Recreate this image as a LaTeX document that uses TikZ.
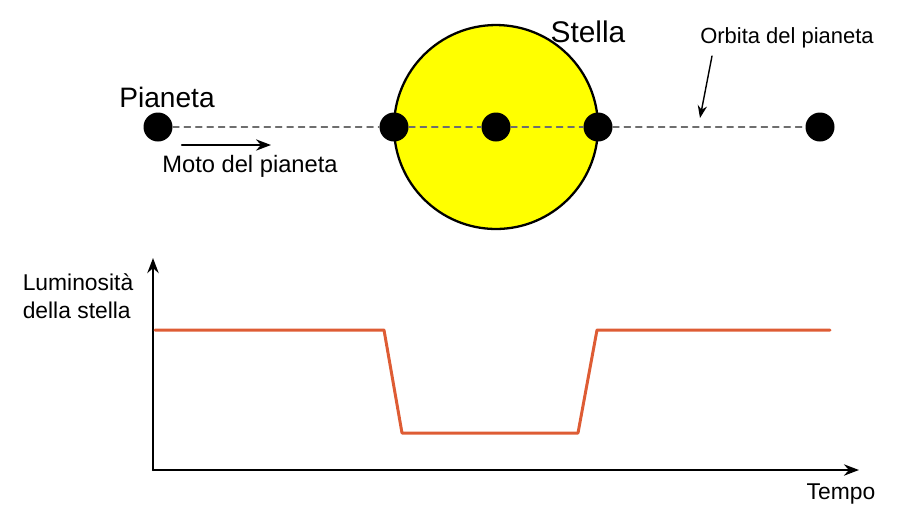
\documentclass[tikz,border=0pt]{standalone}
\usepackage{fontspec}
\setmainfont{Liberation Sans}
\usetikzlibrary{arrows.meta,positioning}

\definecolor{gialloStella}{RGB}{255,255,0}
\definecolor{curvaLuce}{RGB}{222,92,52}
\definecolor{orbitaGrigio}{RGB}{110,110,110}

\begin{document}
\begin{tikzpicture}[x=0.02cm, y=-0.02cm, line cap=round, line join=round, >={Stealth[length=3mm]}]
  \useasboundingbox (0,0) rectangle (906,508);

  % Stella e pianeti sull'orbita
  \node[circle, draw, line width=1.3pt, fill=gialloStella, minimum size=4.08cm, inner sep=0pt] (stella) at (496,127) {};
  \tikzset{pianeta/.style={circle, fill=black, minimum size=0.58cm, inner sep=0pt}}
  \node[pianeta] (p1) at (158,127) {};
  \node[pianeta] (p2) at (394,127) {};
  \node[pianeta] (p3) at (496,127) {};
  \node[pianeta] (p4) at (598,127) {};
  \node[pianeta] (p5) at (820,127) {};
  \draw[orbitaGrigio, dash pattern=on 3.5pt off 3pt, line width=0.8pt] (p1) -- (p2) -- (p3) -- (p4) -- (p5);

  % Etichette in alto
  \node[font=\fontsize{16}{18}\selectfont] (pianetaLbl) at (167,97) {Pianeta};
  \node[font=\fontsize{17}{19}\selectfont] (stellaLbl) at (588,32) {Stella};
  \node[font=\fontsize{12.5}{15}\selectfont] (orbitaLbl) at (787,38) {Orbita del pianeta};
  \node[font=\fontsize{13.5}{16}\selectfont] (motoLbl) at (250,166) {Moto del pianeta};

  % Frecce
  \coordinate (motoA) at (182,145);
  \coordinate (motoB) at (271,145);
  \draw[->, line width=1.2pt] (motoA) -- (motoB);
  \coordinate (orbA) at (712,56);
  \coordinate (orbB) at (700,118);
  \draw[->, line width=0.8pt, >={Stealth[length=2.5mm]}] (orbA) -- (orbB);

  % Grafico della luminosita'
  \coordinate (O) at (153,470);
  \coordinate (yTop) at (153,258);
  \coordinate (xEnd) at (859,470);
  \draw[->, line width=1.4pt] (O) -- (yTop);
  \draw[->, line width=1.4pt] (O) -- (xEnd);
  \draw[curvaLuce, line width=1.7pt] (155,330) -- (384,330) -- (402,433) -- (578,433) -- (597,330) -- (830,330);

  \node[font=\fontsize{13}{16}\selectfont, align=left] (lumLbl) at (78,296) {Luminosità\\della stella};
  \node[font=\fontsize{13}{16}\selectfont] (tempoLbl) at (841,494) {Tempo};
\end{tikzpicture}
\end{document}
